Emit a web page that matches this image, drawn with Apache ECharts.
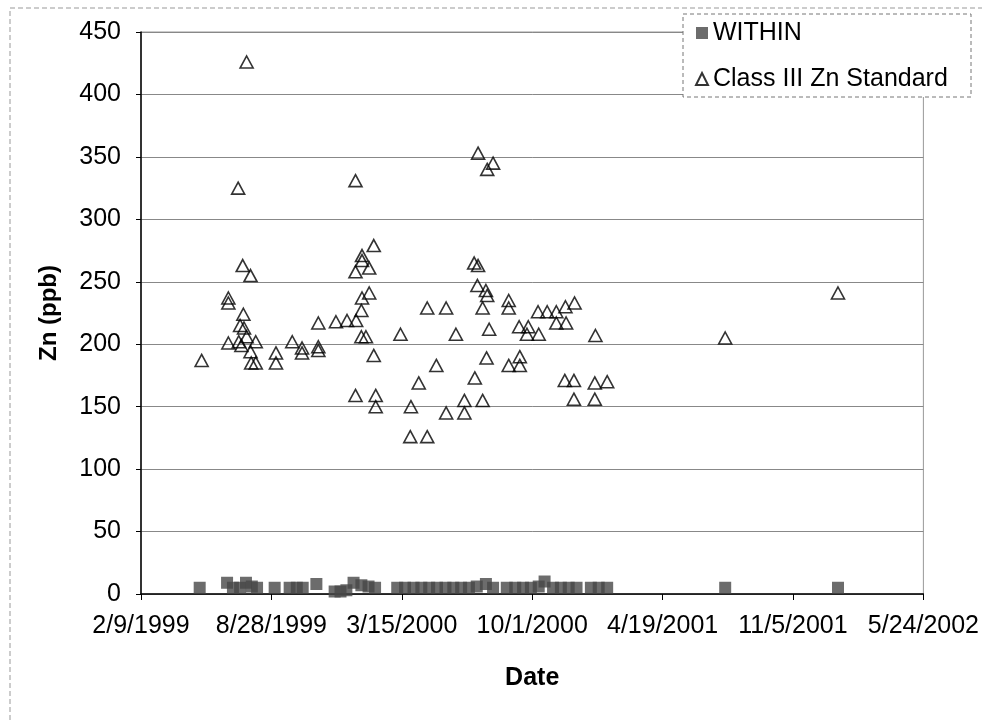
<!DOCTYPE html>
<html>
<head>
<meta charset="utf-8">
<script src="https://cdn.jsdelivr.net/npm/echarts@6/dist/echarts.min.js"></script>
<style>html,body{margin:0;padding:0;background:#fff}#c{width:982px;height:721px}</style>
</head>
<body>
<div id="c"></div>
<script>
// Dates are Excel serial day numbers (36200 = 2/9/1999)
var xTickLabels = ['2/9/1999','8/28/1999','3/15/2000','10/1/2000','4/19/2001','11/5/2001','5/24/2002'];
var yTicks = [0,50,100,150,200,250,300,350,400,450];

var withinDates = [36290,36332,36341,36352,36361,36370,36378,36405,36428,36439,36448,36469,36497,36506,36515,36526,36538,36549,36559,36593,36605,36618,36630,36642,36654,36667,36679,36691,36703,36715,36729,36740,36761,36774,36786,36798,36810,36819,36832,36844,36856,36868,36890,36902,36915,37096,37269];
var withinValues = [5,9,5,5,9,6,5,5,5,5,5,8,2,2,3,9,7,6,5,5,5,5,5,5,5,5,5,5,5,6,8,5,5,5,5,5,6,10,5,5,5,5,5,5,5,5,5];

var stdDates = [36293,36334,36334,36334,36350,36354,36362,36349,36356,36368,36357,36352,36358,36362,36376,36368,36369,36376,36407,36407,36432,36447,36447,36472,36472,36472,36499,36516,36530,36529,36539,36539,36529,36550,36557,36550,36539,36538,36538,36545,36557,36529,36560,36560,36598,36614,36613,36639,36626,36639,36653,36668,36668,36683,36696,36696,36711,36717,36717,36716,36729,36731,36724,36712,36724,36730,36731,36740,36734,36764,36764,36764,36780,36794,36792,36810,36781,36781,36809,36823,36837,36851,36865,36837,36852,36850,36864,36864,36896,36897,36896,36915,37096,37269];
var stdValues = [187,237,233,201,202,199,426,325,263,255,224,215,213,206,202,194,185,185,193,185,202,197,193,217,198,195,218,219,219,331,271,267,258,261,279,241,237,227,206,206,191,159,159,150,208,150,126,126,169,229,183,229,145,208,155,145,265,263,353,247,243,239,229,173,155,189,340,345,212,235,229,183,214,214,208,208,190,183,226,226,226,230,233,217,217,171,171,156,156,207,169,170,205,241];

function pairs(xs, ys){ var out=[]; for(var i=0;i<xs.length;i++){ out.push([xs[i], ys[i]]); } return out; }

var FONT = "'Liberation Sans', Arial, sans-serif";
var chart = echarts.init(document.getElementById('c'), null, {renderer:'canvas'});
chart.setOption({
  animation:false,
  backgroundColor:'#fff',
  textStyle:{fontFamily:FONT},
  grid:{left:141, right:57, top:32, bottom:127, show:true, borderColor:'#999', borderWidth:1, backgroundColor:'transparent'},
  xAxis:{
    type:'value', min:36200, max:37400, interval:200,
    name:'Date', nameLocation:'middle', nameGap:72,
    nameTextStyle:{fontFamily:FONT, fontSize:25, fontWeight:'bold', color:'#000'},
    axisLine:{show:true, lineStyle:{color:'#000', width:1.5}},
    axisTick:{show:true, inside:false, length:6, lineStyle:{color:'#000'}},
    axisLabel:{fontFamily:FONT, fontSize:25, color:'#000', margin:20,
      formatter:function(v){ var i=Math.round((v-36200)/200); return xTickLabels[i]||''; }},
    splitLine:{show:false}
  },
  yAxis:{
    type:'value', min:yTicks[0], max:yTicks[yTicks.length-1], interval:50,
    name:'Zn (ppb)', nameLocation:'middle', nameGap:80,
    nameTextStyle:{fontFamily:FONT, fontSize:24, fontWeight:'bold', color:'#000'},
    axisLine:{show:true, lineStyle:{color:'#000', width:1.5}},
    axisTick:{show:true, inside:false, length:5, lineStyle:{color:'#000'}},
    axisLabel:{fontFamily:FONT, fontSize:25, color:'#000', margin:20},
    splitLine:{show:true, lineStyle:{color:'#888', width:1}}
  },
  legend:{
    orient:'vertical', left:683, top:14, padding:[4,15,3,12],
    itemWidth:12, itemHeight:12, itemGap:16,
    backgroundColor:'#fff', borderWidth:0,
    textStyle:{fontFamily:FONT, fontSize:25, color:'#000', lineHeight:30},
    data:[{name:'WITHIN', icon:'rect'},{name:'Class III Zn Standard', icon:'triangle'}]
  },
  graphic:[
    {type:'rect', z:100, silent:true, shape:{x:10, y:8, width:1000, height:800},
     style:{fill:'none', stroke:'#999', lineWidth:1, lineDash:[5,3]}},
    {type:'rect', z:100, silent:true, shape:{x:683, y:14, width:288, height:83},
     style:{fill:'none', stroke:'#777', lineWidth:1, lineDash:[4,3]}}
  ],
  series:[
    {name:'WITHIN', type:'scatter', symbol:'rect', symbolSize:12,
     itemStyle:{color:'#474747'}, data:pairs(withinDates, withinValues), z:3},
    {name:'Class III Zn Standard', type:'scatter', symbol:'triangle', symbolSize:[13,12],
     itemStyle:{color:'rgba(255,255,255,0)', borderColor:'#000', borderWidth:1.6},
     data:pairs(stdDates, stdValues), z:4}
  ]
});
</script>
</body>
</html>
